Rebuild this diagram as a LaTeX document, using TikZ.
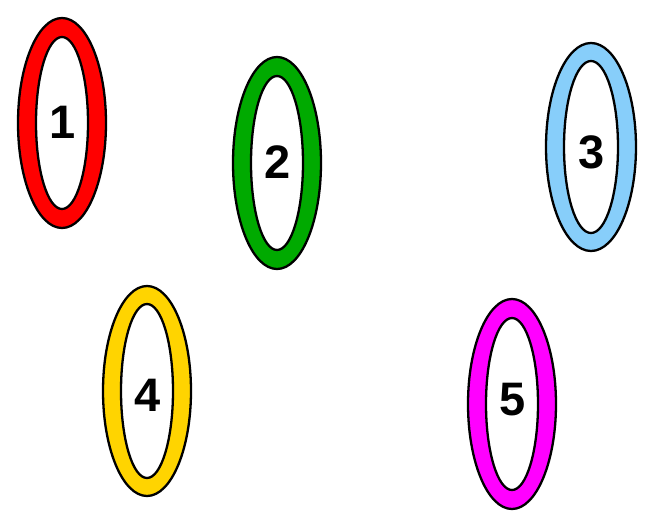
\documentclass[tikz,border=0pt]{standalone}
\usepackage{fontspec}
\setmainfont{Liberation Sans}
\usepackage{tikz}

\begin{document}
\begin{tikzpicture}[x=1pt,y=-1pt,
  ring/.style={draw=black,line width=2.3pt,even odd rule},
  num/.style={font=\fontsize{47}{47}\selectfont\bfseries,inner sep=0pt}]
\useasboundingbox (0,0) rectangle (654,527);
\path[ring,fill=red] (62,123) ellipse [x radius=44pt,y radius=105pt]
  (62,123) ellipse [x radius=26pt,y radius=86pt];
\path[ring,fill={rgb,255:red,0;green,170;blue,0}] (277,163) ellipse [x radius=44pt,y radius=106pt]
  (277,163) ellipse [x radius=26pt,y radius=87pt];
\path[ring,fill={rgb,255:red,135;green,206;blue,250}] (591,147) ellipse [x radius=45pt,y radius=104pt]
  (591,147) ellipse [x radius=27pt,y radius=86pt];
\path[ring,fill={rgb,255:red,255;green,212;blue,0}] (147,391) ellipse [x radius=44pt,y radius=105pt]
  (147,391) ellipse [x radius=26pt,y radius=87pt];
\path[ring,fill={rgb,255:red,255;green,0;blue,255}] (512,404) ellipse [x radius=44pt,y radius=105pt]
  (512,404) ellipse [x radius=26pt,y radius=86pt];
\node[num] (n1) at (63,122) {1};
\node[num] (n2) at (278,162) {2};
\node[num] (n3) at (592,152) {3};
\node[num] (n4) at (148,395) {4};
\node[num] (n5) at (513,400) {5};
\end{tikzpicture}
\end{document}
